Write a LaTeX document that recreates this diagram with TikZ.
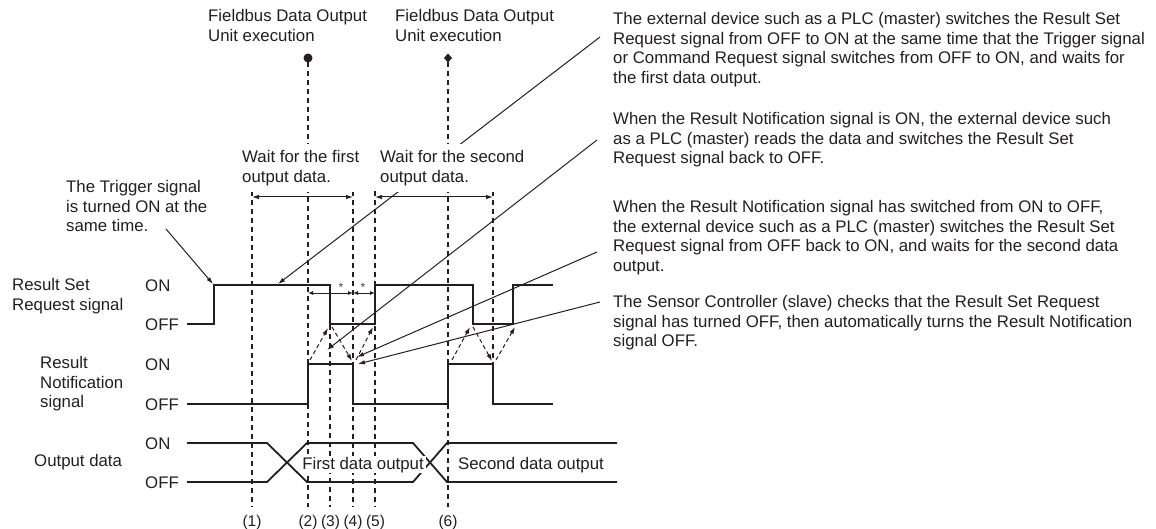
\documentclass[tikz,border=0pt]{standalone}
\usepackage{fontspec}
\setmainfont{Liberation Sans}
\usetikzlibrary{arrows.meta}
\definecolor{ink}{HTML}{231F20}
\newcommand{\fl}{\rule{0pt}{13pt}}
\begin{document}
\begin{tikzpicture}[x=1pt,y=-1pt,
  font=\fontsize{16.8pt}{19.5pt}\selectfont,
  txt/.style={inner sep=0pt, align=left, anchor=north west, text=ink},
  lbl/.style={inner sep=0pt, anchor=base west, text=ink},
  clbl/.style={inner sep=0pt, anchor=base, text=ink},
  num/.style={inner sep=0pt, anchor=base, text=ink, font=\fontsize{15.5pt}{16pt}\selectfont},
  sig/.style={line width=1.8pt, line join=miter, draw=ink},
  guide/.style={line width=1.3pt, draw=ink, dash pattern=on 5pt off 4pt},
  note/.style={line width=1pt, draw=ink, -{Latex[length=7pt,width=4.5pt]}},
  dnote/.style={line width=1pt, draw=ink, dash pattern=on 4pt off 3pt, -{Latex[length=7pt,width=4.5pt]}},
  span/.style={line width=1pt, draw=ink, {Latex[length=7pt,width=4.5pt]}-{Latex[length=7pt,width=4.5pt]}},
  sspan/.style={line width=1pt, draw=ink, {Latex[length=5pt,width=4pt]}-{Latex[length=5pt,width=4pt]}},
  star/.style={font=\fontsize{12pt}{12pt}\selectfont, text=ink!85, inner sep=0pt},
  cover/.style={fill=white, inner xsep=2pt, inner ysep=6pt, align=left, anchor=north west, text=ink},
]
\useasboundingbox (0,0) rectangle (1156,529);

% ---- guide lines ----
\coordinate (g1t) at (252,191); \coordinate (g1b) at (252,507);
\coordinate (g2t) at (308,62);  \coordinate (g2b) at (308,507);
\coordinate (g3t) at (330,325); \coordinate (g3b) at (330,507);
\coordinate (g4t) at (353,191); \coordinate (g4b) at (353,507);
\coordinate (g5t) at (375,191); \coordinate (g5b) at (375,507);
\coordinate (g6t) at (448,62);  \coordinate (g6b) at (448,507);
\coordinate (g7t) at (493,191); \coordinate (g7b) at (493,364);
\foreach \i in {1,...,7} { \draw[guide] (g\i t) -- (g\i b); }

% ---- signals ----
\draw[sig] (187,324) -- (214,324) -- (214,285) -- (330,285) -- (330,324) -- (375,324)
  -- (375,285) -- (473,285) -- (473,324) -- (513,324) -- (513,285) -- (553,285);
\draw[sig] (187,404) -- (308,404) -- (308,364) -- (353,364) -- (353,404) -- (448,404)
  -- (448,364) -- (493,364) -- (493,404) -- (553,404);
\draw[sig] (187,443) -- (267,443) -- (307,482) -- (413,482) -- (447,443) -- (617,443);
\draw[sig] (187,482) -- (267,482) -- (307,443) -- (413,443) -- (447,482) -- (617,482);

% ---- dashed handshake arrows ----
\coordinate (d1a) at (310,360); \coordinate (d1b) at (328,328);
\coordinate (d2a) at (332,327); \coordinate (d2b) at (352,361);
\coordinate (d3a) at (356,360); \coordinate (d3b) at (373,327);
\coordinate (e1a) at (452,360); \coordinate (e1b) at (470,327);
\coordinate (e2a) at (473,327); \coordinate (e2b) at (492,361);
\coordinate (e3a) at (496,360); \coordinate (e3b) at (515,327);
\draw[dnote] (d1a) -- (d1b);
\draw[dnote] (d2a) -- (d2b);
\draw[dnote] (d3a) -- (d3b);
\draw[dnote] (e1a) -- (e1b);
\draw[dnote] (e2a) -- (e2b);
\draw[dnote] (e3a) -- (e3b);

% ---- spans ----
\coordinate (w1a) at (252,197); \coordinate (w1b) at (353,197);
\coordinate (w2a) at (375,197); \coordinate (w2b) at (493,197);
\draw[span] (w1a) -- (w1b);
\draw[span] (w2a) -- (w2b);
\coordinate (s1a) at (308,293); \coordinate (s1b) at (353,293); \coordinate (s2b) at (375,293);
\draw[sspan] (s1a) -- (s1b);
\draw[sspan] (s1b) -- (s2b);
\node[star] (st1) at (341,287) {*};
\node[star] (st2) at (363,287) {*};

% ---- annotation leaders ----
\coordinate (aS) at (600,37);  \coordinate (aE) at (278,284);
\coordinate (bS) at (597,140); \coordinate (bE) at (327,350);
\coordinate (cS) at (597,252); \coordinate (cE) at (357,357);
\coordinate (dS) at (600,302); \coordinate (dE) at (358,364);
\coordinate (tS) at (166,229); \coordinate (tE) at (213,284);
\draw[note] (aS) -- (aE);
\draw[note] (bS) -- (bE);
\draw[note] (cS) -- (cE);
\draw[note] (dS) -- (dE);
\draw[note] (tS) -- (tE);

% ---- markers ----
\fill[ink] (308,58) circle (4.5pt);
\fill[ink] (448,53.5) -- (452,58) -- (448,62.5) -- (444,58) -- cycle;

% ---- texts ----
\node[txt] (fb1) at (208,8.5) {\fl Fieldbus Data Output\\Unit execution};
\node[txt] (fb2) at (395,8.5) {\fl Fieldbus Data Output\\Unit execution};
\node[cover] (wt1) at (240,143.5) {\fl Wait for the first\\output data.};
\node[cover] (wt2) at (378,143.5) {\fl Wait for the second\\output data.};
\node[txt] (trg) at (66,179.5) {\fl The Trigger signal\\is turned ON at the\\same time.};

\node[txt] (rsr) at (12,277.5) {\fl Result Set\\Request signal};
\node[txt] (rns) at (40,355.5) {\fl Result\\Notification\\signal};
\node[lbl] (od) at (34,466.5) {Output data};
\node[lbl] (on1) at (145,291) {ON};
\node[lbl] (of1) at (145,330) {OFF};
\node[lbl] (on2) at (145,370) {ON};
\node[lbl] (of2) at (145,410) {OFF};
\node[lbl] (on3) at (145,449) {ON};
\node[lbl] (of3) at (145,488) {OFF};

\node[clbl, fill=white, inner xsep=2pt, inner ysep=1pt] (fdo) at (363,469) {First data output};
\node[clbl] (sdo) at (531,469) {Second data output};

\node[num] (p1) at (252,526) {(1)};
\node[num] (p2) at (308,526) {(2)};
\node[num] (p3) at (330.5,526) {(3)};
\node[num] (p4) at (353,526) {(4)};
\node[num] (p5) at (375.5,526) {(5)};
\node[num] (p6) at (448,526) {(6)};

\node[txt] (n1) at (613,11.5) {\fl The external device such as a PLC (master) switches the Result Set\\Request signal from OFF to ON at the same time that the Trigger signal\\or Command Request signal switches from OFF to ON, and waits for\\the first data output.};
\node[txt] (n2) at (613,111.5) {\fl When the Result Notification signal is ON, the external device such\\as a PLC (master) reads the data and switches the Result Set\\Request signal back to OFF.};
\node[txt] (n3) at (613,199.5) {\fl When the Result Notification signal has switched from ON to OFF,\\the external device such as a PLC (master) switches the Result Set\\Request signal from OFF back to ON, and waits for the second data\\output.};
\node[txt] (n4) at (613,294.5) {\fl The Sensor Controller (slave) checks that the Result Set Request\\signal has turned OFF, then automatically turns the Result Notification\\signal OFF.};
\end{tikzpicture}
\end{document}
